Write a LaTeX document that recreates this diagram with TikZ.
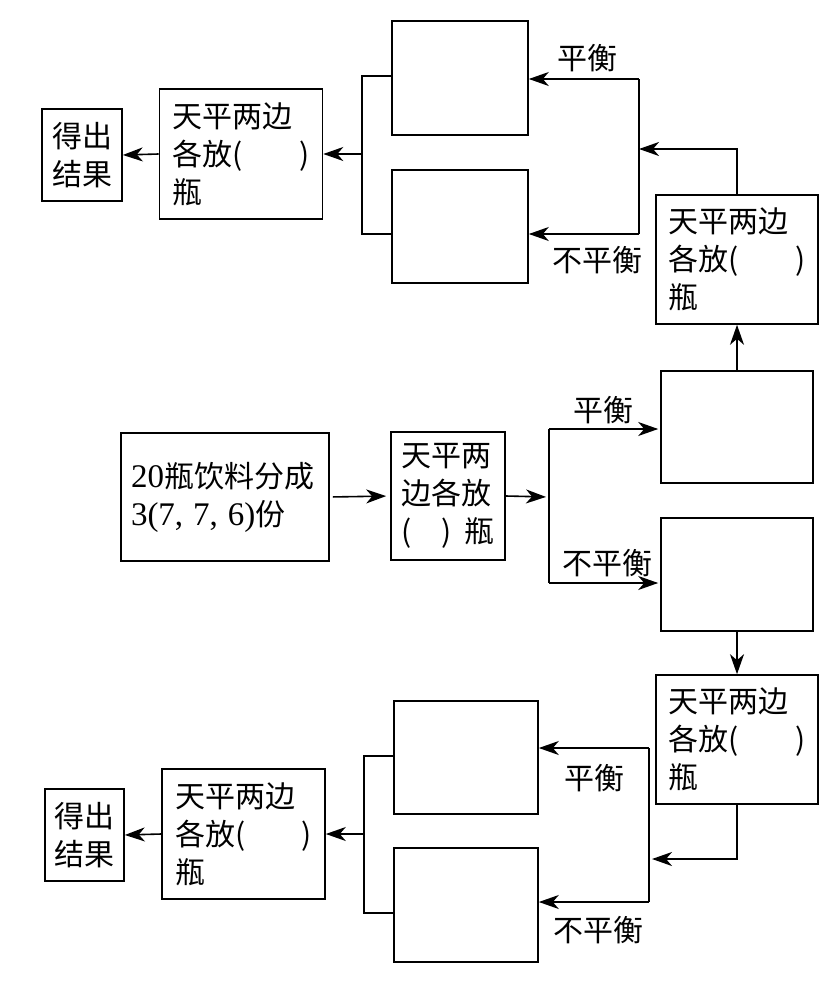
\documentclass[tikz,border=0pt]{standalone}
\usepackage{fontspec}
\setmainfont{Noto Sans CJK SC}
\newfontfamily\lat{Liberation Serif}
\usetikzlibrary{arrows.meta}
\begin{document}
\begin{tikzpicture}[x=1pt,y=-1pt,
  line width=1.6pt,
  box/.style={draw, line width=1.6pt, inner sep=0pt, font=\fontsize{30}{38}\selectfont},
  wbox/.style={box, minimum width=163pt, minimum height=130pt, text width=137pt, align=left},
  rbox/.style={box, minimum width=80pt, minimum height=92pt, align=center},
  lbl/.style={font=\fontsize{30}{36}\selectfont, inner sep=0pt},
  arr/.style={-{Stealth[length=20pt,width=14pt,inset=6pt]}}
]
\useasboundingbox (0,0) rectangle (825,990);
\newcommand\wtext{天平两边\\\makebox[\linewidth][l]{各放(\hfill)}\\瓶}

% ---------- top ----------
\node[rbox] (R1) at (82,155) {得出\\结果};
\node[wbox] (W1) at (241,154) {\wtext};
\node[box, minimum width=136pt, minimum height=114pt] (E1) at (460,78) {};
\node[box, minimum width=136pt, minimum height=113pt] (E2) at (460,226.5) {};
\node[wbox, minimum width=162pt, minimum height=129pt] (W2) at (737,259.5) {\wtext};

% ---------- middle ----------
\node[box, minimum width=208pt, minimum height=128pt, text width=188pt, align=left] (S) at (225,497)
  {{\lat\fontsize{33}{38}\selectfont 20}瓶饮料分成\\{\lat\fontsize{33}{38}\selectfont 3(7, 7, 6)}份};
\node[box, minimum width=114pt, minimum height=128pt, text width=93pt, align=left] (W0) at (448,496)
  {天平两\\边各放\\\makebox[\linewidth][l]{(\hspace{30pt})\hfill 瓶}};
\node[box, minimum width=152pt, minimum height=112pt] (M1) at (737,427) {};
\node[box, minimum width=152pt, minimum height=113pt] (M2) at (737,574.5) {};

% ---------- bottom ----------
\node[wbox, minimum width=162pt, minimum height=129pt] (W3) at (737,739.5) {\wtext};
\node[box, minimum width=144pt, minimum height=113pt] (E3) at (466,757.5) {};
\node[box, minimum width=144pt, minimum height=114pt] (E4) at (466,905) {};
\node[wbox] (W4) at (243.5,834) {\wtext};
\node[rbox, minimum width=79pt] (R2) at (84.5,835) {得出\\结果};

% ---------- connectors top ----------
\coordinate (cT) at (639,149);
\coordinate (tA) at (639,79);
\coordinate (tB) at (639,234);
\draw[arr] (W2.north) |- (cT);
\draw (tA) -- (tB);
\draw[arr] (tA) -- (E1.east |- tA);
\draw[arr] (tB) -- (E2.east |- tB);
\node[lbl] (L1) at (587,58) {平衡};
\node[lbl] (L2) at (597,260) {不平衡};
\coordinate (bA) at (362,76);
\coordinate (bB) at (362,234);
\coordinate (bM) at (362,154);
\draw (E1.west |- bA) -- (bA) -- (bB) -- (E2.west |- bB);
\draw[arr] (bM) -- (W1.east);
\draw[arr] (W1.west) -- (R1.east);

% ---------- connectors middle ----------
\draw[arr, shorten <=3pt, shorten >=4pt] (S.east) -- (W0.west);
\coordinate (mJ) at (549,497);
\coordinate (mA) at (549,429);
\coordinate (mB) at (549,583);
\draw[arr, shorten >=3pt] (W0.east) -- (mJ);
\draw (mA) -- (mB);
\draw[arr, shorten >=2pt] (mA) -- (M1.west |- mA);
\draw[arr, shorten >=2pt] (mB) -- (M2.west |- mB);
\node[lbl] (L3) at (603,410) {平衡};
\node[lbl] (L4) at (607,563) {不平衡};
\draw[arr] (M1.north) -- (W2.south);
\draw[arr] (M2.south) -- (W3.north);

% ---------- connectors bottom ----------
\coordinate (cB) at (652,859);
\coordinate (uA) at (649,748);
\coordinate (uB) at (649,902);
\draw[arr] (W3.south) |- (cB);
\draw (uA) -- (uB);
\draw[arr] (uA) -- (E3.east |- uA);
\draw[arr] (uB) -- (E4.east |- uB);
\node[lbl] (L5) at (594,778) {平衡};
\node[lbl] (L6) at (598,930) {不平衡};
\coordinate (vA) at (364,756);
\coordinate (vB) at (364,913);
\coordinate (vM) at (364,834);
\draw (E3.west |- vA) -- (vA) -- (vB) -- (E4.west |- vB);
\draw[arr] (vM) -- (W4.east);
\draw[arr] (W4.west) -- (R2.east);
\end{tikzpicture}
\end{document}
